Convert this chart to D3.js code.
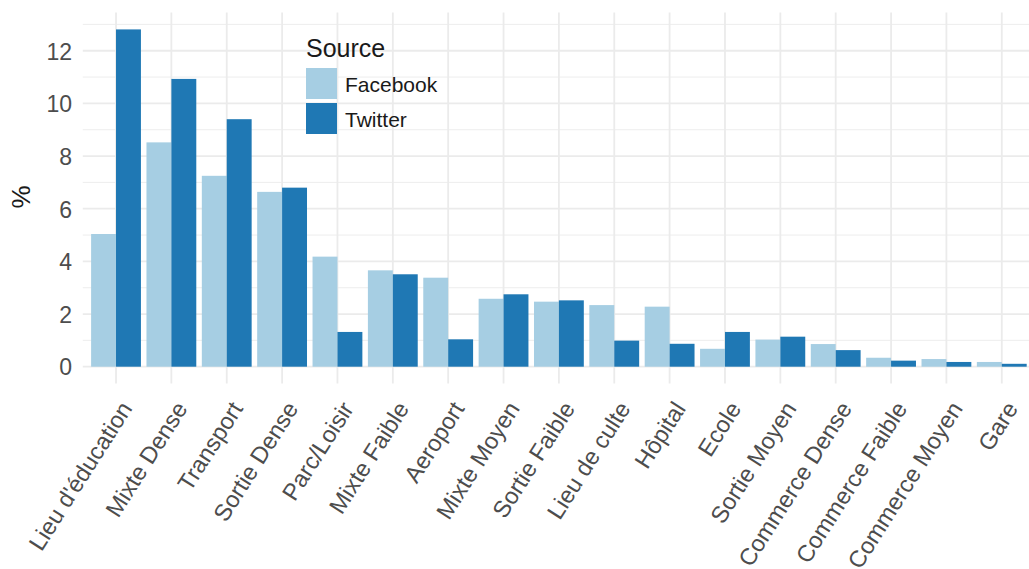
<!DOCTYPE html>
<html><head><meta charset="utf-8">
<script src="https://cdn.jsdelivr.net/npm/d3@7/dist/d3.min.js"></script>
<style>
html,body{margin:0;padding:0;background:#fff;}
svg{display:block;font-family:"Liberation Sans",Arial,Helvetica,sans-serif;}
</style></head>
<body>
<svg id="chart" width="1029" height="569"></svg>
<script>
const categories = ["Lieu d'éducation","Mixte Dense","Transport","Sortie Dense","Parc/Loisir","Mixte Faible","Aeroport","Mixte Moyen","Sortie Faible","Lieu de culte","Hôpital","Ecole","Sortie Moyen","Commerce Dense","Commerce Faible","Commerce Moyen","Gare"];
const sources = ["Facebook","Twitter"];
const facebook = [5.04,8.52,7.25,6.64,4.18,3.66,3.38,2.58,2.47,2.34,2.28,0.68,1.03,0.86,0.34,0.29,0.18];
const twitter  = [12.81,10.93,9.40,6.80,1.32,3.51,1.04,2.75,2.52,0.99,0.87,1.32,1.14,0.63,0.23,0.18,0.11];
const yTicks = [0,2,4,6,8,10,12];
const yMinorTicks = [1,3,5,7,9,11,13];
const colors = ["#a6cee3","#1f78b4"];

const svg = d3.select("#chart");
const step = 55.36;
const left = 82.8;
const x = d3.scaleBand().domain(categories)
  .range([left, left + step*(categories.length+0.2)])
  .paddingInner(0.1).paddingOuter(0.15);
const xs = d3.scaleBand().domain(sources).range([0, x.bandwidth()]);

const yMaxData = d3.max(facebook.concat(twitter));
const ex = yMaxData*0.05;
const pxPerUnit = 26.33;
const y0px = 366.7;
const y = d3.scaleLinear().domain([-ex, yMaxData+ex])
  .range([y0px + ex*pxPerUnit, y0px - (yMaxData+ex)*pxPerUnit]);
const [pBottom, pTop] = y.range();
const pRight = x.range()[1];

const g = svg.append("g");
// grid
g.selectAll("line.ymin").data(yMinorTicks.filter(v=>v<=y.domain()[1])).join("line")
  .attr("x1", left).attr("x2", pRight).attr("y1", d=>y(d)).attr("y2", d=>y(d))
  .attr("stroke","#ebebeb").attr("stroke-width",0.9);
g.selectAll("line.ymaj").data(yTicks).join("line")
  .attr("x1", left).attr("x2", pRight).attr("y1", d=>y(d)).attr("y2", d=>y(d))
  .attr("stroke","#ebebeb").attr("stroke-width",1.8);
g.selectAll("line.xmaj").data(categories).join("line")
  .attr("x1", d=>x(d)+x.bandwidth()/2).attr("x2", d=>x(d)+x.bandwidth()/2)
  .attr("y1", pTop).attr("y2", pBottom)
  .attr("stroke","#ebebeb").attr("stroke-width",1.8);

// bars
const rows = categories.map((c,i)=>({cat:c, vals:[{s:"Facebook",v:facebook[i]},{s:"Twitter",v:twitter[i]}]}));
const cg = g.selectAll("g.cat").data(rows).join("g").attr("transform", d=>`translate(${x(d.cat)},0)`);
cg.selectAll("rect").data(d=>d.vals).join("rect")
  .attr("x", d=>xs(d.s)).attr("width", xs.bandwidth())
  .attr("y", d=>y(d.v)).attr("height", d=>y(0)-y(d.v))
  .attr("fill", (d,i)=>colors[i]);

// y axis labels
const yAxis = d3.axisLeft(y).tickValues(yTicks).tickSize(0).tickPadding(0).tickFormat(d3.format("d"));
const ya = svg.append("g").attr("transform","translate(72,0)").call(yAxis);
ya.select(".domain").remove();
ya.selectAll("text").attr("font-size",23).attr("fill","#4d4d4d")
  .attr("font-family","'Liberation Sans',Arial,sans-serif").attr("dy","0.36em");

// x axis labels
const xAxis = d3.axisBottom(x).tickSize(0).tickPadding(0);
const xa = svg.append("g").attr("transform",`translate(0,${pBottom})`).call(xAxis);
xa.select(".domain").remove();
xa.selectAll("text")
  .attr("font-size",23.5).attr("fill","#4d4d4d")
  .attr("font-family","'Liberation Sans',Arial,sans-serif")
  .attr("text-anchor","end")
  .attr("dy",0).attr("y",0)
  .attr("transform","translate(17,25) rotate(-57.5)");

// y title
svg.append("text").attr("transform","translate(30,197) rotate(-90)")
  .attr("text-anchor","middle").attr("font-size",26).attr("fill","#1a1a1a").text("%");

// legend
const lg = svg.append("g").attr("transform","translate(306,0)");
lg.append("text").attr("x",0).attr("y",57).attr("font-size",25).attr("fill","#1a1a1a").text("Source");
const li = lg.selectAll("g.li").data(sources).join("g").attr("transform",(d,i)=>`translate(0,${68 + i*35})`);
li.append("rect").attr("width",31).attr("height",31).attr("fill",(d,i)=>colors[i]);
li.append("text").attr("x",39).attr("y",23.5).attr("font-size",21).attr("fill","#1a1a1a").text(d=>d);
</script>
</body></html>
